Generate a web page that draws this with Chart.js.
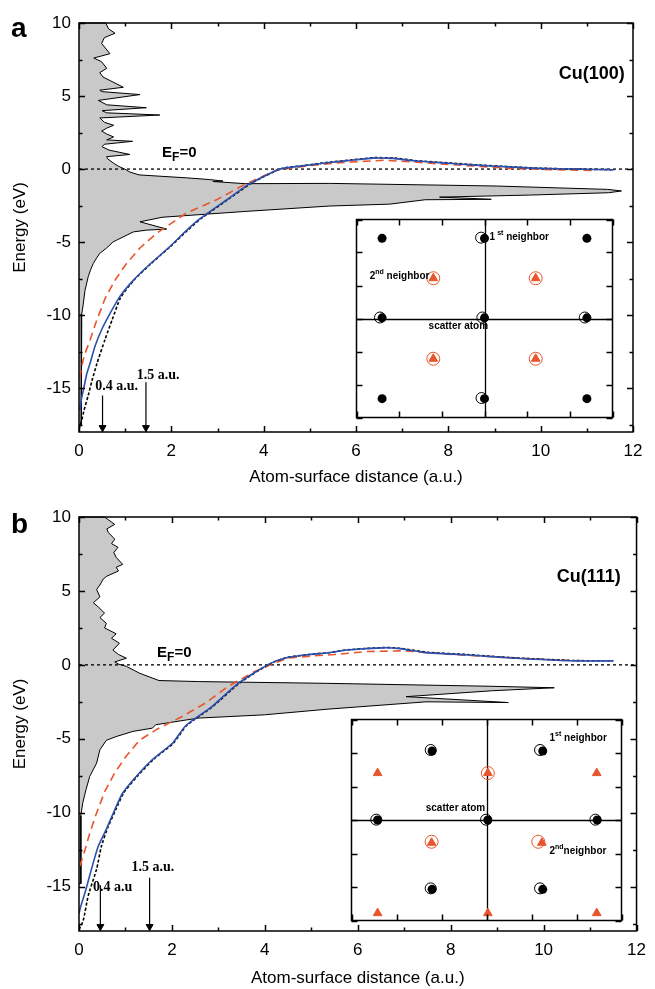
<!DOCTYPE html>
<html><head><meta charset="utf-8">
<script src="https://cdn.jsdelivr.net/npm/chart.js@4.4.0/dist/chart.umd.min.js"></script>
<style>
html,body{margin:0;padding:0;background:#fff;}
#wrap{position:relative;width:655px;height:989px;overflow:hidden;}
.c{position:absolute;}
</style></head>
<body><div id="wrap">
<div class="c" style="left:0;top:0;width:655px;height:490px"><canvas id="ma"></canvas></div>
<div class="c" style="left:0;top:490px;width:655px;height:499px"><canvas id="mb"></canvas></div>
<div class="c" style="left:349px;top:212px;width:271px;height:213px"><canvas id="ia"></canvas></div>
<div class="c" style="left:344px;top:712px;width:285px;height:216px"><canvas id="ib"></canvas></div>
</div>
<script>
// ---------- tick labels ----------
const X_TICKS = [0, 2, 4, 6, 8, 10, 12];
const Y_TICKS = [-15, -10, -5, 0, 5, 10];

// ---------- panel a : Cu(100) ----------
const dosA_x = [0.58,0.64,0.78,0.55,0.49,0.67,0.32,0.49,0.6,0.45,0.52,0.96,0.45,0.5,1.32,0.42,0.6,1.46,0.5,0.6,1.75,0.45,0.55,0.75,0.6,0.49,0.6,0.75,0.6,1.16,0.55,0.5,0.65,1.1,0.6,0.62,0.75,0.85,0.99,1.1,1.3,2.33,2.83,3.12,2.9,3.6,5.43,9.04,11.45,11.75,11.47,9.76,7.81,8.93,7.5,6.73,5.43,3.6,1.8,1.32,1.9,1.46,1.18,0.82,0.74,0.6,0.45,0.38,0.31,0.25,0.2,0.13,0.09,0.06,0.05,0.05];
const dosA_e = [10,9.6,9.3,9.0,8.6,7.9,7.6,7.35,6.9,6.6,6.3,5.6,5.4,5.3,5.1,4.7,4.4,4.2,4.0,3.85,3.7,3.5,3.2,3.0,2.8,2.6,2.4,2.2,2.0,1.9,1.7,1.53,1.3,1.0,0.85,0.7,0.4,0.2,0.0,-0.2,-0.4,-0.6,-0.72,-0.82,-0.85,-1.0,-0.98,-1.16,-1.39,-1.5,-1.62,-1.78,-1.92,-2.07,-2.1,-2.4,-2.53,-2.9,-3.3,-3.61,-4.11,-4.18,-4.3,-4.86,-4.98,-5.4,-5.77,-6.1,-6.46,-6.9,-7.37,-8.3,-9.3,-9.9,-12,-17.5];
const blueA_x = [0.02,0.05,0.11,0.17,0.24,0.35,0.49,0.67,0.89,1.18,1.54,1.97,2.33,2.62,3.2,3.7,4.35,4.8,5.43,5.9,6.37,6.8,7.3,8.0,8.58,9.3,9.95,10.8,11.6];
const blueA_e = [-16.5,-15.8,-14.9,-14.0,-13.3,-12.1,-11.0,-9.9,-8.7,-7.6,-6.5,-5.3,-4.2,-3.4,-2.1,-1.0,0,0.2,0.45,0.6,0.75,0.73,0.55,0.4,0.27,0.15,0.05,0.0,-0.05];
const blackA_x = [0.0,0.06,0.11,0.2,0.28,0.39,0.56,0.72,0.9,1.19,1.55,1.98,2.35,2.64,3.22,3.72,4.37,4.82,5.45,5.92,6.4,6.83,7.32,8.02,8.6,9.32,9.97,10.8,11.6];
const blackA_e = [-17.8,-17.2,-16.5,-15.5,-14.5,-13.3,-11.7,-10.3,-8.8,-7.6,-6.5,-5.3,-4.2,-3.4,-2.1,-1.0,0.02,0.22,0.48,0.63,0.78,0.75,0.57,0.42,0.29,0.16,0.06,0.0,-0.05];
const redA_x = [0.02,0.04,0.11,0.24,0.39,0.56,0.78,1.03,1.32,1.68,2.33,2.98,3.56,4.28,4.9,5.5,6.0,6.6,7.2,7.8,8.6,9.3,10.0,11.2];
const redA_e = [-14.3,-13.8,-12.8,-11.7,-10.3,-8.9,-7.6,-6.46,-5.4,-4.4,-3.0,-2.1,-1.1,-0.07,0.2,0.4,0.5,0.6,0.5,0.35,0.2,0.05,-0.02,-0.1];
const arrowA_x = [0.51, 1.45];
const arrowA_top = [-15.5, -14.6];

// ---------- panel b : Cu(111) ----------
const dosB_x = [0.55,0.77,0.6,0.63,0.77,0.7,0.84,0.75,0.8,0.94,0.8,0.85,0.6,0.52,0.45,0.38,0.45,0.31,0.42,0.55,0.45,0.59,0.55,0.8,0.7,0.87,0.73,0.85,1.02,0.77,0.85,1.02,1.3,1.72,2.57,5.34,8.89,10.23,8.9,7.04,9.24,7.47,5.34,3.99,2.57,1.65,1.58,1.16,0.8,0.59,0.45,0.38,0.23,0.15,0.08,0.04,0.04];
const dosB_e = [10,9.5,9.2,8.96,8.5,8.2,7.95,7.6,7.27,6.8,6.6,6.35,6.0,5.8,5.4,5.1,4.6,4.2,3.9,3.5,3.2,2.8,2.5,2.1,1.8,1.46,1.0,0.7,0.45,0.2,0.05,-0.1,-0.56,-1.06,-1.13,-1.25,-1.45,-1.55,-1.75,-2.15,-2.55,-2.5,-3.0,-3.38,-3.6,-4.05,-4.28,-4.5,-4.85,-5.1,-5.74,-6.64,-7.55,-8.45,-9.35,-10.2,-14.8];
const blueB_x = [0.0,0.05,0.13,0.27,0.41,0.59,0.77,0.94,1.23,1.58,2.01,2.3,2.86,3.43,4.06,4.42,4.91,5.34,5.77,6.55,6.9,7.47,8.32,9.03,9.6,10.66,11.5];
const blueB_e = [-16.8,-16.2,-15.4,-13.8,-12.3,-11.1,-9.8,-8.67,-7.55,-6.4,-5.3,-4.1,-2.82,-1.24,0,0.45,0.68,0.8,1.0,1.15,1.1,0.83,0.68,0.52,0.41,0.27,0.27];
const blackB_x = [0.0,0.09,0.2,0.38,0.48,0.62,0.79,0.96,1.25,1.6,2.03,2.32,2.88,3.45,4.08,4.44,4.93,5.36,5.79,6.57,6.92,7.49,8.34,9.05,9.62,10.68,11.5];
const blackB_e = [-17.9,-17.3,-15.6,-13.8,-12.3,-11.0,-9.8,-8.67,-7.55,-6.4,-5.3,-4.1,-2.82,-1.24,0.02,0.47,0.7,0.82,1.02,1.17,1.12,0.85,0.7,0.54,0.43,0.29,0.28];
const redB_x = [0.02,0.13,0.23,0.38,0.55,0.77,1.01,1.3,1.68,2.22,2.72,3.21,3.78,4.2,4.49,5.0,5.5,6.2,7.0,7.6,8.5,9.5,10.5];
const redB_e = [-13.6,-12.5,-11.4,-10.0,-8.6,-7.3,-6.2,-5.1,-4.35,-3.49,-2.59,-1.46,-0.45,0.11,0.45,0.6,0.7,0.9,0.95,0.8,0.62,0.45,0.3];
const arrowB_x = [0.46, 1.52];
const arrowB_top = [-14.9, -14.4];

// ---------- insets (lattice positions) ----------
const insA_black_x = [0.6,3,5.4,0.6,3,5.4,0.6,3,5.4];
const insA_black_y = [5.43,5.43,5.43,3.02,3.02,3.02,0.57,0.57,0.57];
const insA_open_x = [2.92,0.55,2.95,5.35,2.93];
const insA_open_y = [5.45,3.03,3.03,3.03,0.59];
const insA_tri_x = [1.8,4.2,1.8,4.2];
const insA_tri_y = [4.22,4.22,1.78,1.78];
const insA_ring_x = [1.8,4.2,1.8,4.2];
const insA_ring_y = [4.22,4.22,1.78,1.78];

const insB_black_x = [1.79,4.25,0.58,3.03,5.46,1.79,4.25];
const insB_black_y = [5.06,5.06,3.0,3.0,3.0,0.93,0.93];
const insB_open_x = [1.76,4.19,0.55,2.99,5.42,1.76,4.19];
const insB_open_y = [5.09,5.09,3.01,3.01,3.01,0.96,0.96];
const insB_tri_x = [0.58,3.03,5.45,1.78,4.23,0.58,3.03,5.45];
const insB_tri_y = [4.4,4.4,4.4,2.32,2.32,0.22,0.22,0.22];
const insB_ring_x = [3.03,1.78,4.15];
const insB_ring_y = [4.4,2.35,2.35];

// ---------- helpers ----------
const SANS = 'Arial, "Liberation Sans", Helvetica, sans-serif';
const SERIF = '"Times New Roman", "Liberation Serif", serif';
const ORANGE = '#e8552c';
const BLUE = '#2d4fae';
const GRAY = '#c9c9c9';

function pts(xs, ys) { return xs.map((x, i) => ({x: x, y: ys[i]})); }

function richText(ctx, parts, x, y, align) {
  let w = 0;
  parts.forEach(p => { ctx.font = p.f; w += ctx.measureText(p.t).width; });
  let cx = align === 'right' ? x - w : (align === 'center' ? x - w / 2 : x);
  parts.forEach(p => { ctx.font = p.f; ctx.fillText(p.t, cx, y + (p.dy || 0)); cx += ctx.measureText(p.t).width; });
}

function frameTicksPlugin(xMinor, xMajor, yMinor, yMajor, lw) {
  return {
    id: 'frameTicks',
    afterDatasetsDraw(chart) {
      const {ctx, chartArea: a, scales: {x, y}} = chart;
      ctx.save();
      ctx.strokeStyle = '#000';
      ctx.lineWidth = lw;
      ctx.strokeRect(a.left, a.top, a.right - a.left, a.bottom - a.top);
      ctx.beginPath();
      for (let v = x.min; v <= x.max + 1e-9; v += xMinor) {
        const major = Math.abs(v / xMajor - Math.round(v / xMajor)) < 1e-6;
        const len = major ? 6 : 3.5;
        const px = Math.round(x.getPixelForValue(v)) + 0.5;
        ctx.moveTo(px, a.bottom); ctx.lineTo(px, a.bottom - len);
        ctx.moveTo(px, a.top); ctx.lineTo(px, a.top + len);
      }
      const y0 = Math.ceil(y.min / yMinor) * yMinor;
      for (let v = y0; v <= y.max + 1e-9; v += yMinor) {
        const major = Math.abs(v / yMajor - Math.round(v / yMajor)) < 1e-6;
        const len = major ? 6 : 3.5;
        const py = Math.round(y.getPixelForValue(v)) + 0.5;
        ctx.moveTo(a.left, py); ctx.lineTo(a.left + len, py);
        ctx.moveTo(a.right, py); ctx.lineTo(a.right - len, py);
      }
      ctx.stroke();
      ctx.restore();
    }
  };
}

function notesPlugin(notes, panelLetter, letterY) {
  return {
    id: 'notes',
    afterDraw(chart) {
      const {ctx, scales: {x, y}} = chart;
      ctx.save();
      ctx.fillStyle = '#000';
      ctx.textBaseline = 'middle';
      notes.forEach(n => richText(ctx, n.parts, x.getPixelForValue(n.x), y.getPixelForValue(n.y), n.align));
      if (panelLetter) {
        ctx.textBaseline = 'alphabetic';
        ctx.font = 'bold 28px ' + SANS;
        ctx.fillText(panelLetter, 11, letterY);
      }
      ctx.restore();
    }
  };
}

function whiteBg() {
  return {
    id: 'whiteBg',
    beforeDraw(chart) {
      const {ctx, chartArea: a} = chart;
      ctx.save(); ctx.fillStyle = '#fff';
      ctx.fillRect(a.left, a.top, a.right - a.left, a.bottom - a.top);
      ctx.restore();
    }
  };
}

function makeMain(id, d) {
  const dosPts = pts(d.dosX, d.dosE);
  dosPts.unshift({x: 0, y: 10});
  dosPts.push({x: 0, y: d.dosE[d.dosE.length - 1]});
  const datasets = [
    {data: dosPts, showLine: true, fill: 'shape', backgroundColor: GRAY, borderColor: '#000', borderWidth: 1, pointRadius: 0, order: 10, clip: false},
    {data: pts([0, 12], [0, 0]), showLine: true, borderColor: '#000', borderWidth: 1.3, borderDash: [3, 3], pointRadius: 0, order: 9},
    {data: pts(d.redX, d.redE), showLine: true, borderColor: ORANGE, borderWidth: 1.6, borderDash: [8, 5], pointRadius: 0, order: 6},
    {data: pts(d.blackX, d.blackE), showLine: true, borderColor: '#000', borderWidth: 1.6, borderDash: [3, 2], pointRadius: 0, order: 5, tension: 0.2},
    {data: pts(d.blueX, d.blueE), showLine: true, borderColor: BLUE, borderWidth: 1.6, pointRadius: 0, order: 3, tension: 0.2}
  ];
  d.arrowX.forEach((ax, i) => {
    datasets.push({data: pts([ax, ax], [d.arrowTop[i], -18]), showLine: true, borderColor: '#000', borderWidth: 1.2, pointRadius: 0, order: 1});
  });
  datasets.push({data: pts(d.arrowX, d.arrowX.map(() => -17.7)), showLine: false, pointStyle: 'triangle', rotation: 180, pointRadius: 4, backgroundColor: '#000', borderColor: '#000', borderWidth: 1, order: 0, clip: false});

  return new Chart(document.getElementById(id), {
    type: 'scatter',
    data: {datasets},
    options: {
      responsive: true, maintainAspectRatio: false, animation: false,
      events: [],
      layout: {padding: {top: d.padTop, right: d.padRight, left: 0, bottom: 0}},
      plugins: {legend: {display: false}, tooltip: {enabled: false}},
      scales: {
        x: {
          type: 'linear', min: 0, max: 12,
          afterBuildTicks: s => { s.ticks = X_TICKS.map(v => ({value: v})); },
          afterFit: s => { s.height = d.xAxisH; },
          ticks: {color: '#000', font: {family: SANS, size: 17}, padding: 9, maxRotation: 0},
          grid: {display: false, drawTicks: false}, border: {display: false},
          title: {display: true, text: 'Atom-surface distance (a.u.)', color: '#000', font: {family: SANS, size: 17}, padding: {top: 0, bottom: d.xTitlePad}}
        },
        y: {
          type: 'linear', min: -18, max: 10,
          afterBuildTicks: s => { s.ticks = Y_TICKS.map(v => ({value: v})); },
          afterFit: s => { s.width = 79; },
          ticks: {color: '#000', font: {family: SANS, size: 17}, padding: 8},
          grid: {display: false, drawTicks: false}, border: {display: false},
          title: {display: true, text: 'Energy (eV)', color: '#000', font: {family: SANS, size: 17}, padding: {top: 10, bottom: 0}}
        }
      }
    },
    plugins: [frameTicksPlugin(1, 2, 2.5, 5, 1.5), notesPlugin(d.notes, d.letter, d.letterY)]
  });
}

function makeInset(id, d) {
  return new Chart(document.getElementById(id), {
    type: 'scatter',
    data: {datasets: [
      {data: pts(d.ringX, d.ringY), pointStyle: 'circle', pointRadius: 6.5, backgroundColor: 'rgba(0,0,0,0)', borderColor: ORANGE, borderWidth: 1, clip: false},
      {data: pts(d.triX, d.triY), pointStyle: 'triangle', pointRadius: 5, backgroundColor: ORANGE, borderColor: ORANGE, borderWidth: 1, clip: false},
      {data: pts(d.openX, d.openY), pointStyle: 'circle', pointRadius: 5.5, backgroundColor: 'rgba(0,0,0,0)', borderColor: '#000', borderWidth: 1, clip: false},
      {data: pts(d.blackX, d.blackY), pointStyle: 'circle', pointRadius: 4.5, backgroundColor: '#000', borderColor: '#000', borderWidth: 0, clip: false}
    ]},
    options: {
      responsive: true, maintainAspectRatio: false, animation: false, events: [],
      layout: {padding: 2},
      plugins: {legend: {display: false}, tooltip: {enabled: false}},
      scales: {x: {display: false, min: 0, max: 6}, y: {display: false, min: 0, max: 6}}
    },
    plugins: [whiteBg(), {
      id: 'cross',
      beforeDatasetsDraw(chart) {
        const {ctx, chartArea: a, scales: {x, y}} = chart;
        ctx.save(); ctx.strokeStyle = '#000'; ctx.lineWidth = 1.3;
        ctx.beginPath();
        const cx = Math.round(x.getPixelForValue(3)) + 0.5, cy = Math.round(y.getPixelForValue(3)) + 0.5;
        ctx.moveTo(cx, a.top); ctx.lineTo(cx, a.bottom);
        ctx.moveTo(a.left, cy); ctx.lineTo(a.right, cy);
        ctx.stroke(); ctx.restore();
      }
    }, frameTicksPlugin(1, 1, 1, 1, 1.5), notesPlugin(d.notes, null, 0)]
  });
}

const bold10 = 'bold 10px ' + SANS, sup7 = 'bold 7px ' + SANS;
const efParts = [{t: 'E', f: 'bold 15px ' + SANS}, {t: 'F', f: 'bold 12px ' + SANS, dy: 5}, {t: '=0', f: 'bold 15px ' + SANS}];
const cuFont = 'bold 18px ' + SANS;
const arFont = 'bold 14px ' + SERIF;

makeMain('ma', {
  dosX: dosA_x, dosE: dosA_e, blueX: blueA_x, blueE: blueA_e, blackX: blackA_x, blackE: blackA_e,
  redX: redA_x, redE: redA_e, arrowX: arrowA_x, arrowTop: arrowA_top,
  padTop: 23, padRight: 22, xAxisH: 58, xTitlePad: 2, letter: 'a', letterY: 37,
  notes: [
    {x: 1.8, y: 1.1, align: 'left', parts: efParts},
    {x: 11.82, y: 6.5, align: 'right', parts: [{t: 'Cu(100)', f: cuFont}]},
    {x: 0.35, y: -14.9, align: 'left', parts: [{t: '0.4 a.u.', f: arFont}]},
    {x: 1.25, y: -14.1, align: 'left', parts: [{t: '1.5 a.u.', f: arFont}]}
  ]
});
makeMain('mb', {
  dosX: dosB_x, dosE: dosB_e, blueX: blueB_x, blueE: blueB_e, blackX: blackB_x, blackE: blackB_e,
  redX: redB_x, redE: redB_e, arrowX: arrowB_x, arrowTop: arrowB_top,
  padTop: 27, padRight: 12, xAxisH: 58, xTitlePad: 0, letter: 'b', letterY: 43,
  notes: [
    {x: 1.68, y: 0.81, align: 'left', parts: efParts},
    {x: 11.66, y: 5.95, align: 'right', parts: [{t: 'Cu(111)', f: cuFont}]},
    {x: 0.3, y: -15.07, align: 'left', parts: [{t: '0.4 a.u', f: arFont}]},
    {x: 1.13, y: -13.7, align: 'left', parts: [{t: '1.5 a.u.', f: arFont}]}
  ]
});
makeInset('ia', {
  blackX: insA_black_x, blackY: insA_black_y, openX: insA_open_x, openY: insA_open_y,
  triX: insA_tri_x, triY: insA_tri_y, ringX: insA_ring_x, ringY: insA_ring_y,
  notes: [
    {x: 3.12, y: 5.46, align: 'left', parts: [{t: '1', f: bold10}, {t: ' st', f: sup7, dy: -4}, {t: ' neighbor', f: bold10}]},
    {x: 0.31, y: 4.28, align: 'left', parts: [{t: '2', f: bold10}, {t: 'nd', f: sup7, dy: -4}, {t: ' neighbor', f: bold10}]},
    {x: 1.69, y: 2.76, align: 'left', parts: [{t: 'scatter atom', f: bold10}]}
  ]
});
makeInset('ib', {
  blackX: insB_black_x, blackY: insB_black_y, openX: insB_open_x, openY: insB_open_y,
  triX: insB_tri_x, triY: insB_tri_y, ringX: insB_ring_x, ringY: insB_ring_y,
  notes: [
    {x: 4.4, y: 5.44, align: 'left', parts: [{t: '1', f: bold10}, {t: 'st', f: sup7, dy: -4}, {t: ' neighbor', f: bold10}]},
    {x: 1.65, y: 3.34, align: 'left', parts: [{t: 'scatter atom', f: bold10}]},
    {x: 4.4, y: 2.07, align: 'left', parts: [{t: '2', f: bold10}, {t: 'nd', f: sup7, dy: -4}, {t: 'neighbor', f: bold10}]}
  ]
});
</script>
</body></html>
